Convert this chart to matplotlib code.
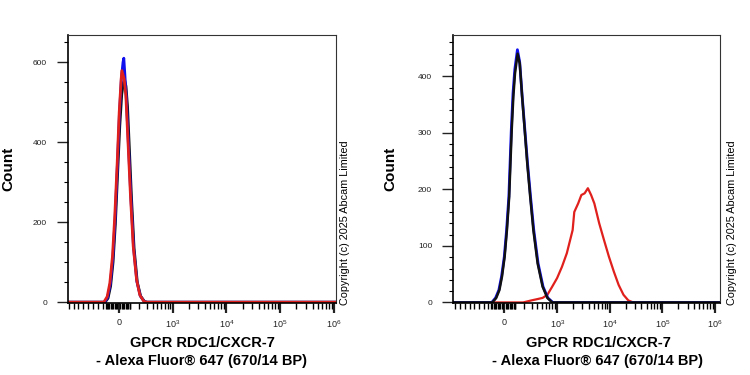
import numpy as np
import matplotlib.pyplot as plt
from matplotlib.ticker import FixedLocator, FixedFormatter

plt.rcParams['font.family'] = ['Liberation Sans', 'DejaVu Sans']

# Intensidades (escala biexponencial) e contagens
# Painel esquerdo: três histogramas sobrepostos
esq_x_preto = [-870, -125, -96, -72, -50, -30, -10, 8, 25, 40, 50, 62, 76, 94, 114, 140, 175, 215, 265, 305, 1.09e6]
esq_y_preto = [0, 0, 10, 40, 100, 195, 325, 440, 520, 550, 555, 540, 490, 380, 260, 135, 50, 15, 2, 0, 0]
esq_x_azul = [-870, -130, -100, -75, -52, -32, -12, 5, 22, 36, 43, 52, 66, 86, 108, 135, 170, 210, 262, 300, 1.09e6]
esq_y_azul = [0, 0, 12, 45, 110, 210, 345, 470, 560, 600, 610, 570, 505, 385, 260, 135, 52, 16, 2, 0, 0]
esq_x_verm = [-870, -138, -104, -79, -55, -35, -14, 3, 20, 26, 46, 61, 82, 104, 131, 167, 205, 258, 298, 1.09e6]
esq_y_verm = [0, 0, 14, 48, 115, 215, 349, 474, 558, 579, 558, 516, 391, 265, 140, 56, 18, 2, 0, 0]

# Painel direito: controles (preto/azul) e amostra marcada (vermelho)
dir_x_preto = [-930, -109, -72, -43, -20, 3, 23, 43, 66, 81, 97, 123, 146, 172, 203, 236, 278, 328, 406, 514, 642, 800, 1.24e6]
dir_y_preto = [0, 0, 8, 22, 46, 81, 128, 187, 305, 364, 405, 440, 422, 364, 305, 246, 187, 128, 69, 28, 8, 0, 0]
dir_x_azul = [-930, -115, -78, -48, -24, 0, 20, 40, 62, 78, 95, 121, 145, 172, 205, 240, 283, 335, 415, 525, 655, 820, 1.24e6]
dir_y_azul = [0, 0, 8, 22, 46, 81, 128, 187, 305, 370, 412, 447, 425, 366, 305, 246, 187, 128, 69, 28, 8, 0, 0]
dir_x_verm = [-930, 184, 293, 406, 514, 642, 800, 994, 1234, 1530, 1976, 2124, 2516, 2900, 3344, 3854,
              4440, 5116, 6320, 7820, 9664, 11940, 14780, 18280, 22600, 27920, 1.24e6]
dir_y_verm = [0, 0, 3.5, 6, 8, 13.5, 28, 43, 63, 87, 128, 160, 175, 190, 193, 202,
              190, 175, 140, 110, 81, 55, 31, 13.5, 3.5, 0, 0]

rotulo_x = "GPCR RDC1/CXCR-7\n- Alexa Fluor\u00ae 647 (670/14 BP)"
copyright_txt = "Copyright (c) 2025 Abcam Limited"

VERMELHO = '#e0201c'
AZUL = '#1010ee'
PRETO = '#111111'

# Escala biexponencial aproximada (arcsinh)
W = 200.0
def fwd(x):
    return np.arcsinh(np.asarray(x) / W) / np.log(10)

def inv(y):
    return W * np.sinh(np.asarray(y) * np.log(10))


def configura_eixos(ax, xlim, ylim, y_maior, y_menor):
    ax.set_xscale('function', functions=(fwd, inv))
    ax.set_xlim(*xlim)
    ax.set_ylim(*ylim)

    maiores = [0, 1e3, 1e4, 1e5, 1e6]
    ax.xaxis.set_major_locator(FixedLocator(maiores))
    ax.xaxis.set_major_formatter(FixedFormatter(
        ['0', r'$\mathregular{10^3}$', r'$\mathregular{10^4}$',
         r'$\mathregular{10^5}$', r'$\mathregular{10^6}$']))
    menores = list(inv(np.linspace(-0.93, -0.3, 8)))
    menores += list(np.arange(-120, 100, 12))
    menores += [m * 100 for m in range(1, 10)]
    for dec in [1e3, 1e4, 1e5]:
        menores += [m * dec for m in range(2, 10)]
    ax.xaxis.set_minor_locator(FixedLocator(menores))

    ax.yaxis.set_major_locator(FixedLocator(y_maior))
    ax.yaxis.set_minor_locator(FixedLocator(y_menor))

    ax.tick_params(axis='x', which='major', length=7, width=1.6, labelsize=6.5, pad=4, colors='#222222')
    ax.tick_params(axis='x', which='minor', length=4, width=1.0)
    ax.tick_params(axis='y', which='major', length=8, width=1.0, labelsize=6, pad=7, colors='#222222')
    ax.tick_params(axis='y', which='minor', length=3, width=0.8)
    for s in ['top', 'right']:
        ax.spines[s].set_linewidth(0.8)
        ax.spines[s].set_color('#333333')
    for s in ['left', 'bottom']:
        ax.spines[s].set_linewidth(1.2)


fig = plt.figure(figsize=(7.5, 3.75), dpi=100)

ax1 = fig.add_axes([68 / 750, 72 / 375, 268 / 750, 268 / 375])
ax1.plot(esq_x_preto, esq_y_preto, color=PRETO, lw=2.0)
ax1.plot(esq_x_azul, esq_y_azul, color=AZUL, lw=2.0)
ax1.plot(esq_x_verm, esq_y_verm, color=VERMELHO, lw=2.0)
configura_eixos(ax1, (-870, 1.09e6), (-2, 668), [0, 200, 400, 600], list(range(0, 700, 50)))

ax2 = fig.add_axes([453 / 750, 72 / 375, 267 / 750, 268 / 375])
ax2.plot(dir_x_verm, dir_y_verm, color=VERMELHO, lw=1.6)
ax2.plot(dir_x_azul, dir_y_azul, color=AZUL, lw=2.0)
ax2.plot(dir_x_preto, dir_y_preto, color=PRETO, lw=1.8)
configura_eixos(ax2, (-930, 1.24e6), (-1, 473), [0, 100, 200, 300, 400], list(range(0, 480, 20)))

# Rótulos
for xc, xl in [(8, 202), (390, 598)]:
    fig.text(xc / 750, 1 - 169 / 375, 'Count', rotation=90, ha='center', va='center',
             fontsize=11, fontweight='bold')
    fig.text(xl / 750, 1 - 352 / 375, rotulo_x, ha='center', va='center',
             fontsize=10.5, fontweight='bold', linespacing=1.45)
for xc in [345, 732]:
    fig.text(xc / 750, 1 - 305 / 375, copyright_txt, rotation=90, ha='center', va='bottom',
             fontsize=7.8)

fig.savefig('out.png', dpi=100)
